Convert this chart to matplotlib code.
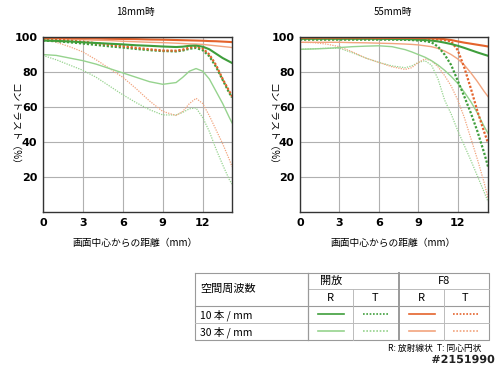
import matplotlib.pyplot as plt
import matplotlib.patheffects as pe

plt.rcParams['font.family'] = ['Noto Sans CJK JP', 'DejaVu Sans']

# distance from image centre (mm)
x18 = [0, 1, 2, 3, 4, 5, 6, 7, 8, 9, 10, 10.5, 11, 11.5, 12, 12.5, 13, 13.5, 14, 14.2]
x55 = [0, 1, 2, 3, 4, 5, 6, 7, 8, 8.5, 9, 9.5, 10, 10.5, 11, 11.5, 12, 12.5, 13, 13.5, 14, 14.3]

# 18mm
w18_10R = [98, 97.8, 97.5, 97, 96.6, 96.2, 95.8, 95.3, 95, 94.6, 94.3, 94.5, 95, 95.1, 94.5, 93, 90.5, 88, 86, 85.2]
w18_10T = [98, 97.6, 97, 96.3, 95.5, 94.7, 94, 93.2, 92.5, 92, 91.8, 92.3, 93.3, 93.8, 92.5, 89, 83, 75.5, 68, 65.5]
w18_30R = [90, 89.5, 88, 86.5, 84.5, 82, 79.5, 77, 74.5, 73, 74, 77, 80.5, 82, 80.5, 76, 69, 62, 54, 51]
w18_30T = [89.5, 87, 84, 81, 77, 72, 67, 62.5, 58.5, 55.5, 55.5, 57, 59, 59.5, 54, 46, 36, 27, 18.5, 16]
f18_10R = [99.5, 99.5, 99.4, 99.3, 99.2, 99, 98.9, 98.8, 98.6, 98.5, 98.3, 98.2, 98.1, 98, 97.9, 97.7, 97.6, 97.4, 97.2, 97.1]
f18_10T = [99, 98.6, 98, 97.3, 96.5, 95.6, 94.8, 93.8, 93, 92.3, 92.2, 92.8, 94, 94.6, 93.5, 90, 84, 76, 69, 66]
f18_30R = [99.2, 99, 98.8, 98.5, 98.2, 98, 97.6, 97.3, 97, 96.8, 96.5, 96.3, 96.1, 96, 95.8, 95.4, 95, 94.6, 94.2, 94]
f18_30T = [99, 97, 94.5, 91.5, 87, 82, 77, 70.5, 63.5, 57.5, 55.2, 57.5, 62, 65, 62, 55, 47, 39, 30, 26]

# 55mm
w55_10R = [99, 99, 99, 99, 99, 99, 99, 98.9, 98.8, 98.7, 98.5, 98.3, 98, 97.5, 96.8, 96, 95, 93.8, 92.5, 91.2, 90, 89.3]
w55_10T = [98.5, 98.5, 98.5, 98.5, 98.5, 98.5, 98.5, 98.5, 98.4, 98.3, 98, 97.7, 97, 94.5, 90, 84, 75, 66, 56.5, 46, 34, 26]
w55_30R = [93, 93.2, 93.5, 94, 94.5, 94.8, 95, 94.5, 92.8, 91.5, 90, 88.5, 86.5, 84, 81, 77.5, 73.5, 68.5, 63, 56.5, 49, 45]
w55_30T = [93, 93.3, 93.6, 93.6, 91, 88, 85.5, 83.5, 82.5, 83.5, 85.5, 86.5, 84, 76, 64, 56, 46.5, 38, 29.5, 20.5, 11.5, 6]
f55_10R = [99.6, 99.6, 99.6, 99.6, 99.6, 99.6, 99.5, 99.5, 99.5, 99.5, 99.4, 99.4, 99.3, 99.1, 98.8, 98.3, 97.5, 96.8, 96.2, 95.6, 95, 94.6]
f55_10T = [99, 99, 99, 99, 99, 99, 99, 99, 99, 99, 98.9, 98.8, 98.7, 98.6, 98.3, 97.5, 92.5, 82.5, 70.5, 57.5, 46, 39.5]
f55_30R = [97, 97, 97, 97, 96.8, 96.7, 96.5, 96.3, 96, 95.8, 95.5, 95, 94.5, 93.5, 92, 90, 87.5, 84, 79.5, 74.5, 69, 66]
f55_30T = [97, 96.8, 96, 94.5, 91.5, 88, 85.5, 83, 81.5, 82.5, 85.5, 87.5, 86.5, 83, 78, 72, 64, 54, 42, 30, 17, 8]

xticks = [0, 3, 6, 9, 12]
yticks = [20, 40, 60, 80, 100]

G10 = '#3f9e3c'
G30 = '#96d38e'
O10 = '#e4632c'
O30 = '#f2a47e'


def draw(ax, x, w10R, w10T, w30R, w30T, f10R, f10T, f30R, f30T, xmax):
    ax.plot(x, w30T, color=G30, lw=0.9, ls=(0, (1, 1)))
    ax.plot(x, f30T, color=O30, lw=0.9, ls=(0, (1, 1)))
    ax.plot(x, w30R, color=G30, lw=1.0)
    ax.plot(x, f30R, color=O30, lw=1.0)
    ax.plot(x, w10T, color=G10, lw=1.6, ls=(0, (1, 0.8)))
    ax.plot(x, f10T, color=O10, lw=1.6, ls=(0, (1, 0.8)))
    ax.plot(x, w10R, color=G10, lw=1.5)
    ax.plot(x, f10R, color=O10, lw=1.5)
    ax.set_xlim(0, xmax)
    ax.set_ylim(0, 100)
    ax.set_xticks(xticks)
    ax.set_yticks(yticks)
    ax.grid(color='#b0b0b0', lw=0.8)
    ax.set_axisbelow(True)
    ax.tick_params(length=0, labelsize=8, pad=4)
    for lab in ax.get_xticklabels() + ax.get_yticklabels():
        lab.set_fontweight('bold')
        lab.set_family('DejaVu Sans')
    for s in ax.spines.values():
        s.set_color('#333333')
        s.set_linewidth(1.0)


fig = plt.figure(figsize=(5, 3.65), dpi=100)

ax1 = fig.add_axes([0.086, 0.419, 0.378, 0.4795])
draw(ax1, x18, w18_10R, w18_10T, w18_30R, w18_30T, f18_10R, f18_10T, f18_30R, f18_30T, 14.2)
ax2 = fig.add_axes([0.600, 0.419, 0.376, 0.4795])
draw(ax2, x55, w55_10R, w55_10T, w55_30R, w55_30T, f55_10R, f55_10T, f55_30R, f55_30T, 14.3)

# overlay in pixel coordinates for text and table
ov = fig.add_axes([0, 0, 1, 1])
ov.set_xlim(0, 500)
ov.set_ylim(365, 0)
ov.axis('off')

for cx, ttl in [(135, '18mm時'), (393, '55mm時')]:
    ov.text(cx, 12, ttl, ha='center', va='center', fontsize=7)
    ov.text(cx, 243, '画面中心からの距離（mm）', ha='center', va='center', fontsize=7)
for lx in [14, 272]:
    ov.text(lx, 126, 'コントラスト（%）', ha='center', va='center', fontsize=7, rotation=-90)

# table
tl, tr, tt, tb = 195, 489, 273, 340
rows = [289, 306, 323]
ov.plot([tl, tr, tr, tl, tl], [tt, tt, tb, tb, tt], color='#9a9a9a', lw=0.8)
ov.plot([308, tr], [rows[0], rows[0]], color='#bbbbbb', lw=0.7)
ov.plot([tl, tr], [rows[1], rows[1]], color='#9a9a9a', lw=0.8)
ov.plot([tl, tr], [rows[2], rows[2]], color='#bbbbbb', lw=0.7)
ov.plot([308, 308], [tt, tb], color='#9a9a9a', lw=0.9)
ov.plot([399, 399], [tt, tb], color='#9a9a9a', lw=1.4)
ov.plot([353, 353], [rows[0], tb], color='#bbbbbb', lw=0.7)
ov.plot([444, 444], [rows[0], tb], color='#bbbbbb', lw=0.7)

ov.text(200, 289, '空間周波数', ha='left', va='center', fontsize=8)
ov.text(331, 281, '開放', ha='center', va='center', fontsize=8)
ov.text(444, 281, 'F8', ha='center', va='center', fontsize=8)
for cx, t in [(331, 'R'), (376, 'T'), (422, 'R'), (466, 'T')]:
    ov.text(cx - 1, 298, t, ha='center', va='center', fontsize=8)
ov.text(200, 315, '10 本 / mm', ha='left', va='center', fontsize=7.5)
ov.text(200, 332, '30 本 / mm', ha='left', va='center', fontsize=7.5)

leg_cols = [331, 376, 422, 466]
leg_styles = [
    [(G10, '-'), (G10, (0, (1, 1))), (O10, '-'), (O10, (0, (1, 1)))],
    [(G30, '-'), (G30, (0, (1, 1))), (O30, '-'), (O30, (0, (1, 1)))],
]
leg_rows = [314, 331]
for ry, styles in zip(leg_rows, leg_styles):
    for cx, (c, ls) in zip(leg_cols, styles):
        ov.plot([cx - 13, cx + 13], [ry, ry], color=c, ls=ls, lw=1.2)

ov.text(482, 348.5, 'R: 放射線状  T: 同心円状', ha='right', va='center', fontsize=6.3)
ov.text(495, 360, '#2151990', ha='right', va='center', fontsize=8, fontweight='bold',
        family='DejaVu Sans', color='#222222',
        path_effects=[pe.withStroke(linewidth=2, foreground='white')])

fig.savefig('out.png', dpi=100)
